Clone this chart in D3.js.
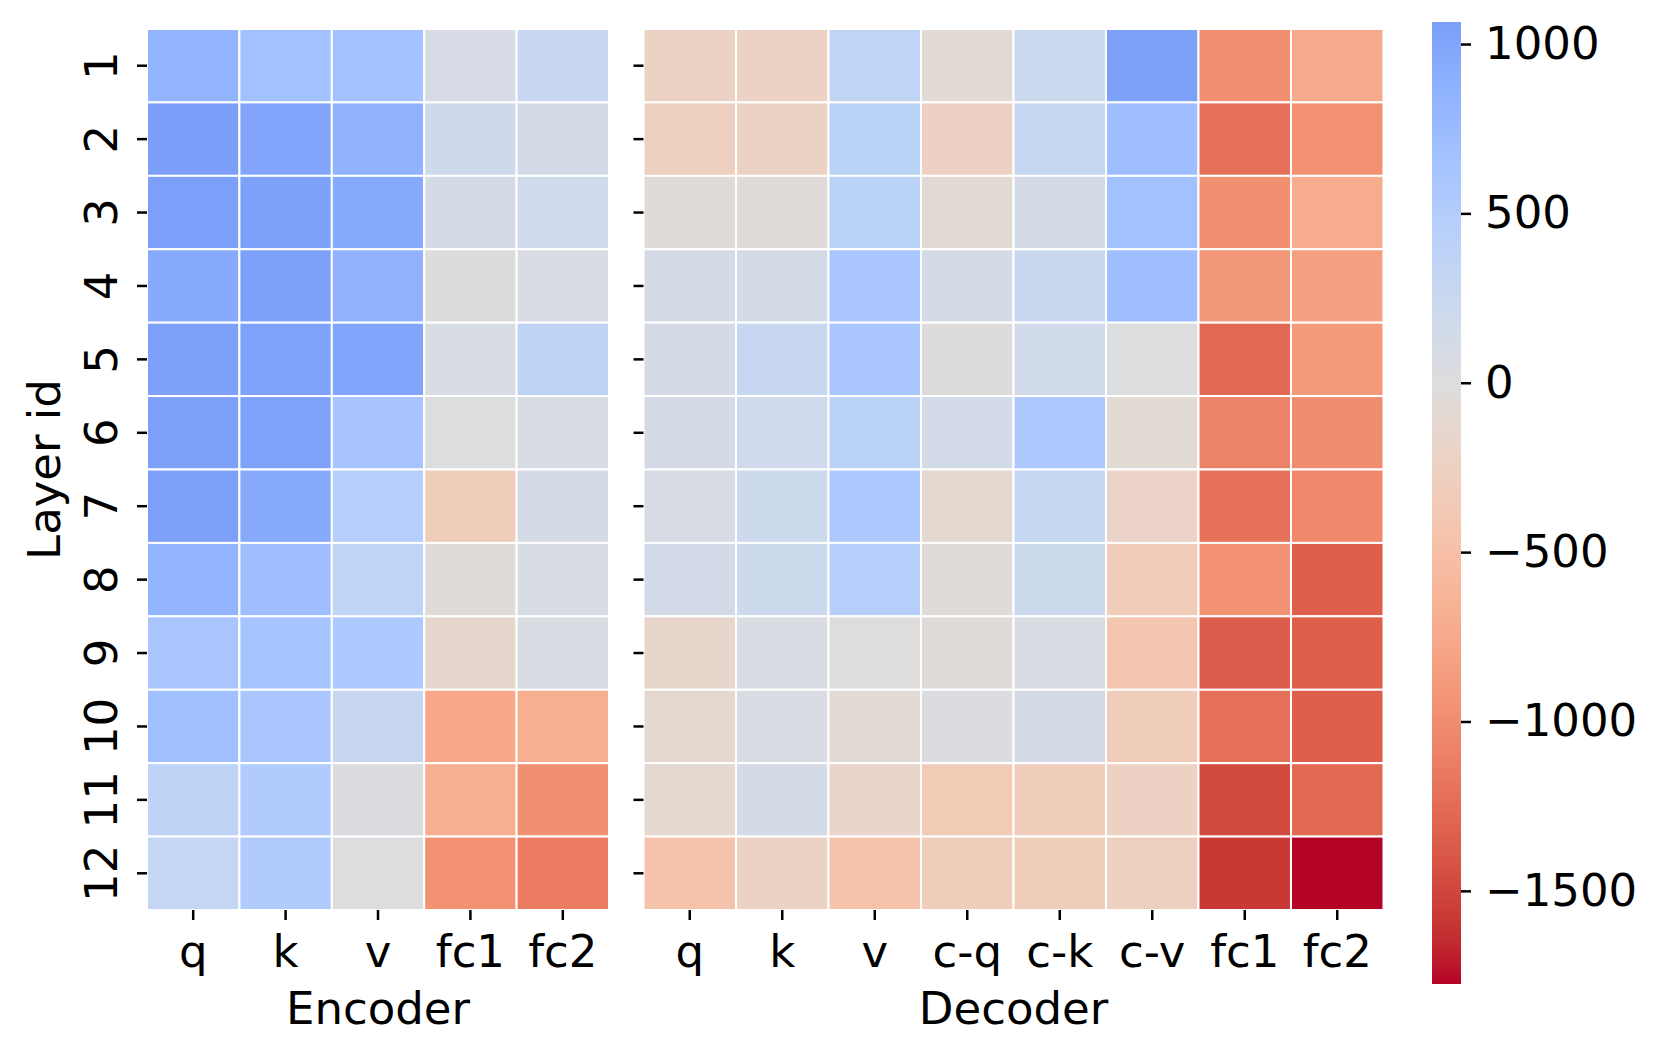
<!DOCTYPE html>
<html>
<head>
<meta charset="utf-8">
<script src="https://cdn.jsdelivr.net/npm/d3@7"></script>
<style>
  body { margin: 0; background: #fff; }
  svg text { font-family: "DejaVu Sans", sans-serif; fill: #000; }
</style>
</head>
<body>
<div class="heatmap"></div>
<script>
// data
const layers = ["1","2","3","4","5","6","7","8","9","10","11","12"];
const encoderCols = ["q","k","v","fc1","fc2"];
const decoderCols = ["q","k","v","c-q","c-k","c-v","fc1","fc2"];

const encoderValues = [
  [ 830,  680,  670,  100,  280],
  [1065, 1000,  850,  200,  110],
  [1060, 1050,  960,  110,  190],
  [ 950, 1050,  850,  -20,   60],
  [1050, 1040, 1000,   70,  380],
  [1050, 1040,  630,   10,   80],
  [1050,  960,  480, -310,  110],
  [ 830,  720,  350,  -40,   70],
  [ 620,  640,  550, -150,   60],
  [ 690,  600,  270, -760, -690],
  [ 380,  530,   40, -690, -980],
  [ 310,  530,   20, -960, -1130]
];

const decoderValues = [
  [-230, -230,  360,  -70,  230, 1050,  -980,  -740],
  [-270, -230,  410, -240,  290,  720, -1210,  -970],
  [ -40,  -50,  410,  -80,  110,  680,  -980,  -720],
  [ 120,  120,  600,  120,  240,  720,  -910,  -830],
  [ 120,  280,  600,  -20,  170,   10, -1260,  -900],
  [ 120,  190,  410,  140,  570,  -70, -1080, -1000],
  [  90,  210,  550, -110,  290, -200, -1210, -1030],
  [ 140,  210,  470,  -40,  210, -330,  -960, -1340],
  [-160,   60,  -10,  -40,   60, -420, -1350, -1340],
  [-110,   60,  -70,   30,  120, -310, -1220, -1340],
  [-110,  120, -170, -350, -310, -240, -1470, -1270],
  [-450, -230, -470, -310, -310, -270, -1580, -1775]
];

const colorbarTicks = [1000, 500, 0, -500, -1000, -1500];

// matplotlib coolwarm (Moreland) control points
const coolwarm = [
  [59,76,192],[68,90,204],[77,104,215],[87,117,225],[98,130,234],[108,142,241],
  [119,154,247],[130,165,251],[141,176,254],[152,185,255],[163,194,255],[174,201,253],
  [184,208,249],[194,213,244],[204,217,238],[213,219,230],[221,221,221],[229,216,209],
  [236,211,197],[241,204,185],[245,196,173],[247,187,160],[247,177,148],[247,166,135],
  [244,154,123],[241,141,111],[236,127,99],[229,112,88],[222,96,77],[213,80,66],
  [203,62,56],[192,40,47],[180,4,38]
];

const width = 1661, height = 1056;
const fontSize = 45;

const svg = d3.select(".heatmap")
  .append("svg")
  .attr("width", width)
  .attr("height", height);

const all = encoderValues.flat().concat(decoderValues.flat());
const vmin = d3.min(all), vmax = d3.max(all);
const vrange = Math.max(vmax, -vmin);

// coolwarm_r, centered at 0 like seaborn's center=0
const cw = d3.scaleLinear()
  .domain(coolwarm.map((c, i) => i / (coolwarm.length - 1)))
  .range(coolwarm.map(c => d3.rgb(c[0], c[1], c[2])))
  .interpolate(d3.interpolateRgb);
const color = v => cw(0.5 - v / (2 * vrange));

const y = d3.scaleBand().domain(layers).range([29, 910]);
const xEnc = d3.scaleBand().domain(encoderCols).range([147, 609]);
const xDec = d3.scaleBand().domain(decoderCols).range([643.5, 1383.5]);

function drawPanel(x, cols, values, title, showLabels) {
  const g = svg.append("g");
  values.forEach((row, i) => {
    g.selectAll(null)
      .data(row)
      .join("rect")
      .attr("x", (d, j) => x(cols[j]))
      .attr("y", y(layers[i]))
      .attr("width", x.bandwidth())
      .attr("height", y.bandwidth())
      .attr("fill", d => color(d))
      .attr("stroke", "#fff")
      .attr("stroke-width", 2);
  });

  const xAxis = svg.append("g")
    .attr("transform", `translate(0,${y.range()[1]})`)
    .call(d3.axisBottom(x).tickSize(10).tickPadding(0));
  xAxis.select(".domain").remove();
  xAxis.selectAll(".tick line").attr("stroke-width", 2.5);
  xAxis.selectAll(".tick text")
    .attr("y", 57).attr("dy", 0)
    .style("font-size", fontSize + "px")
    .style("font-family", "DejaVu Sans");

  const yAxis = svg.append("g")
    .attr("transform", `translate(${x.range()[0]},0)`)
    .call(d3.axisLeft(y).tickSize(10));
  yAxis.select(".domain").remove();
  yAxis.selectAll(".tick line").attr("stroke-width", 2.5);
  if (showLabels) {
    yAxis.selectAll(".tick text")
      .attr("x", null).attr("dy", null)
      .attr("text-anchor", "middle")
      .attr("transform", "translate(-30,0) rotate(-90)")
      .style("font-size", fontSize + "px")
      .style("font-family", "DejaVu Sans");
  } else {
    yAxis.selectAll(".tick text").remove();
  }

  svg.append("text")
    .attr("x", (x.range()[0] + x.range()[1]) / 2)
    .attr("y", 1024)
    .attr("text-anchor", "middle")
    .style("font-size", fontSize + "px")
    .text(title);
}

drawPanel(xEnc, encoderCols, encoderValues, "Encoder", true);
drawPanel(xDec, decoderCols, decoderValues, "Decoder", false);

svg.append("text")
  .attr("transform", `translate(60,${(y.range()[0] + y.range()[1]) / 2}) rotate(-90)`)
  .attr("text-anchor", "middle")
  .style("font-size", fontSize + "px")
  .text("Layer id");

// colorbar
const cbX = 1432, cbW = 29;
const cb = d3.scaleLinear().domain([vmin, vmax]).range([984, 22]);

const grad = svg.append("defs").append("linearGradient")
  .attr("id", "cbar")
  .attr("x1", 0).attr("y1", 1).attr("x2", 0).attr("y2", 0);
d3.range(0, 1.0001, 1 / 64).forEach(t => {
  const v = vmin + t * (vmax - vmin);
  grad.append("stop").attr("offset", t).attr("stop-color", color(v));
});

svg.append("rect")
  .attr("x", cbX)
  .attr("y", cb(vmax))
  .attr("width", cbW)
  .attr("height", cb(vmin) - cb(vmax))
  .attr("fill", "url(#cbar)");

const cAxis = svg.append("g")
  .attr("transform", `translate(${cbX + cbW},0)`)
  .call(d3.axisRight(cb).tickValues(colorbarTicks).tickSize(10).tickPadding(14)
    .tickFormat(d => d < 0 ? "\u2212" + Math.abs(d) : String(d)));
cAxis.select(".domain").remove();
cAxis.selectAll(".tick line").attr("stroke-width", 2.5);
cAxis.selectAll(".tick text")
  .style("font-size", fontSize + "px")
  .style("font-family", "DejaVu Sans");
</script>
</body>
</html>
